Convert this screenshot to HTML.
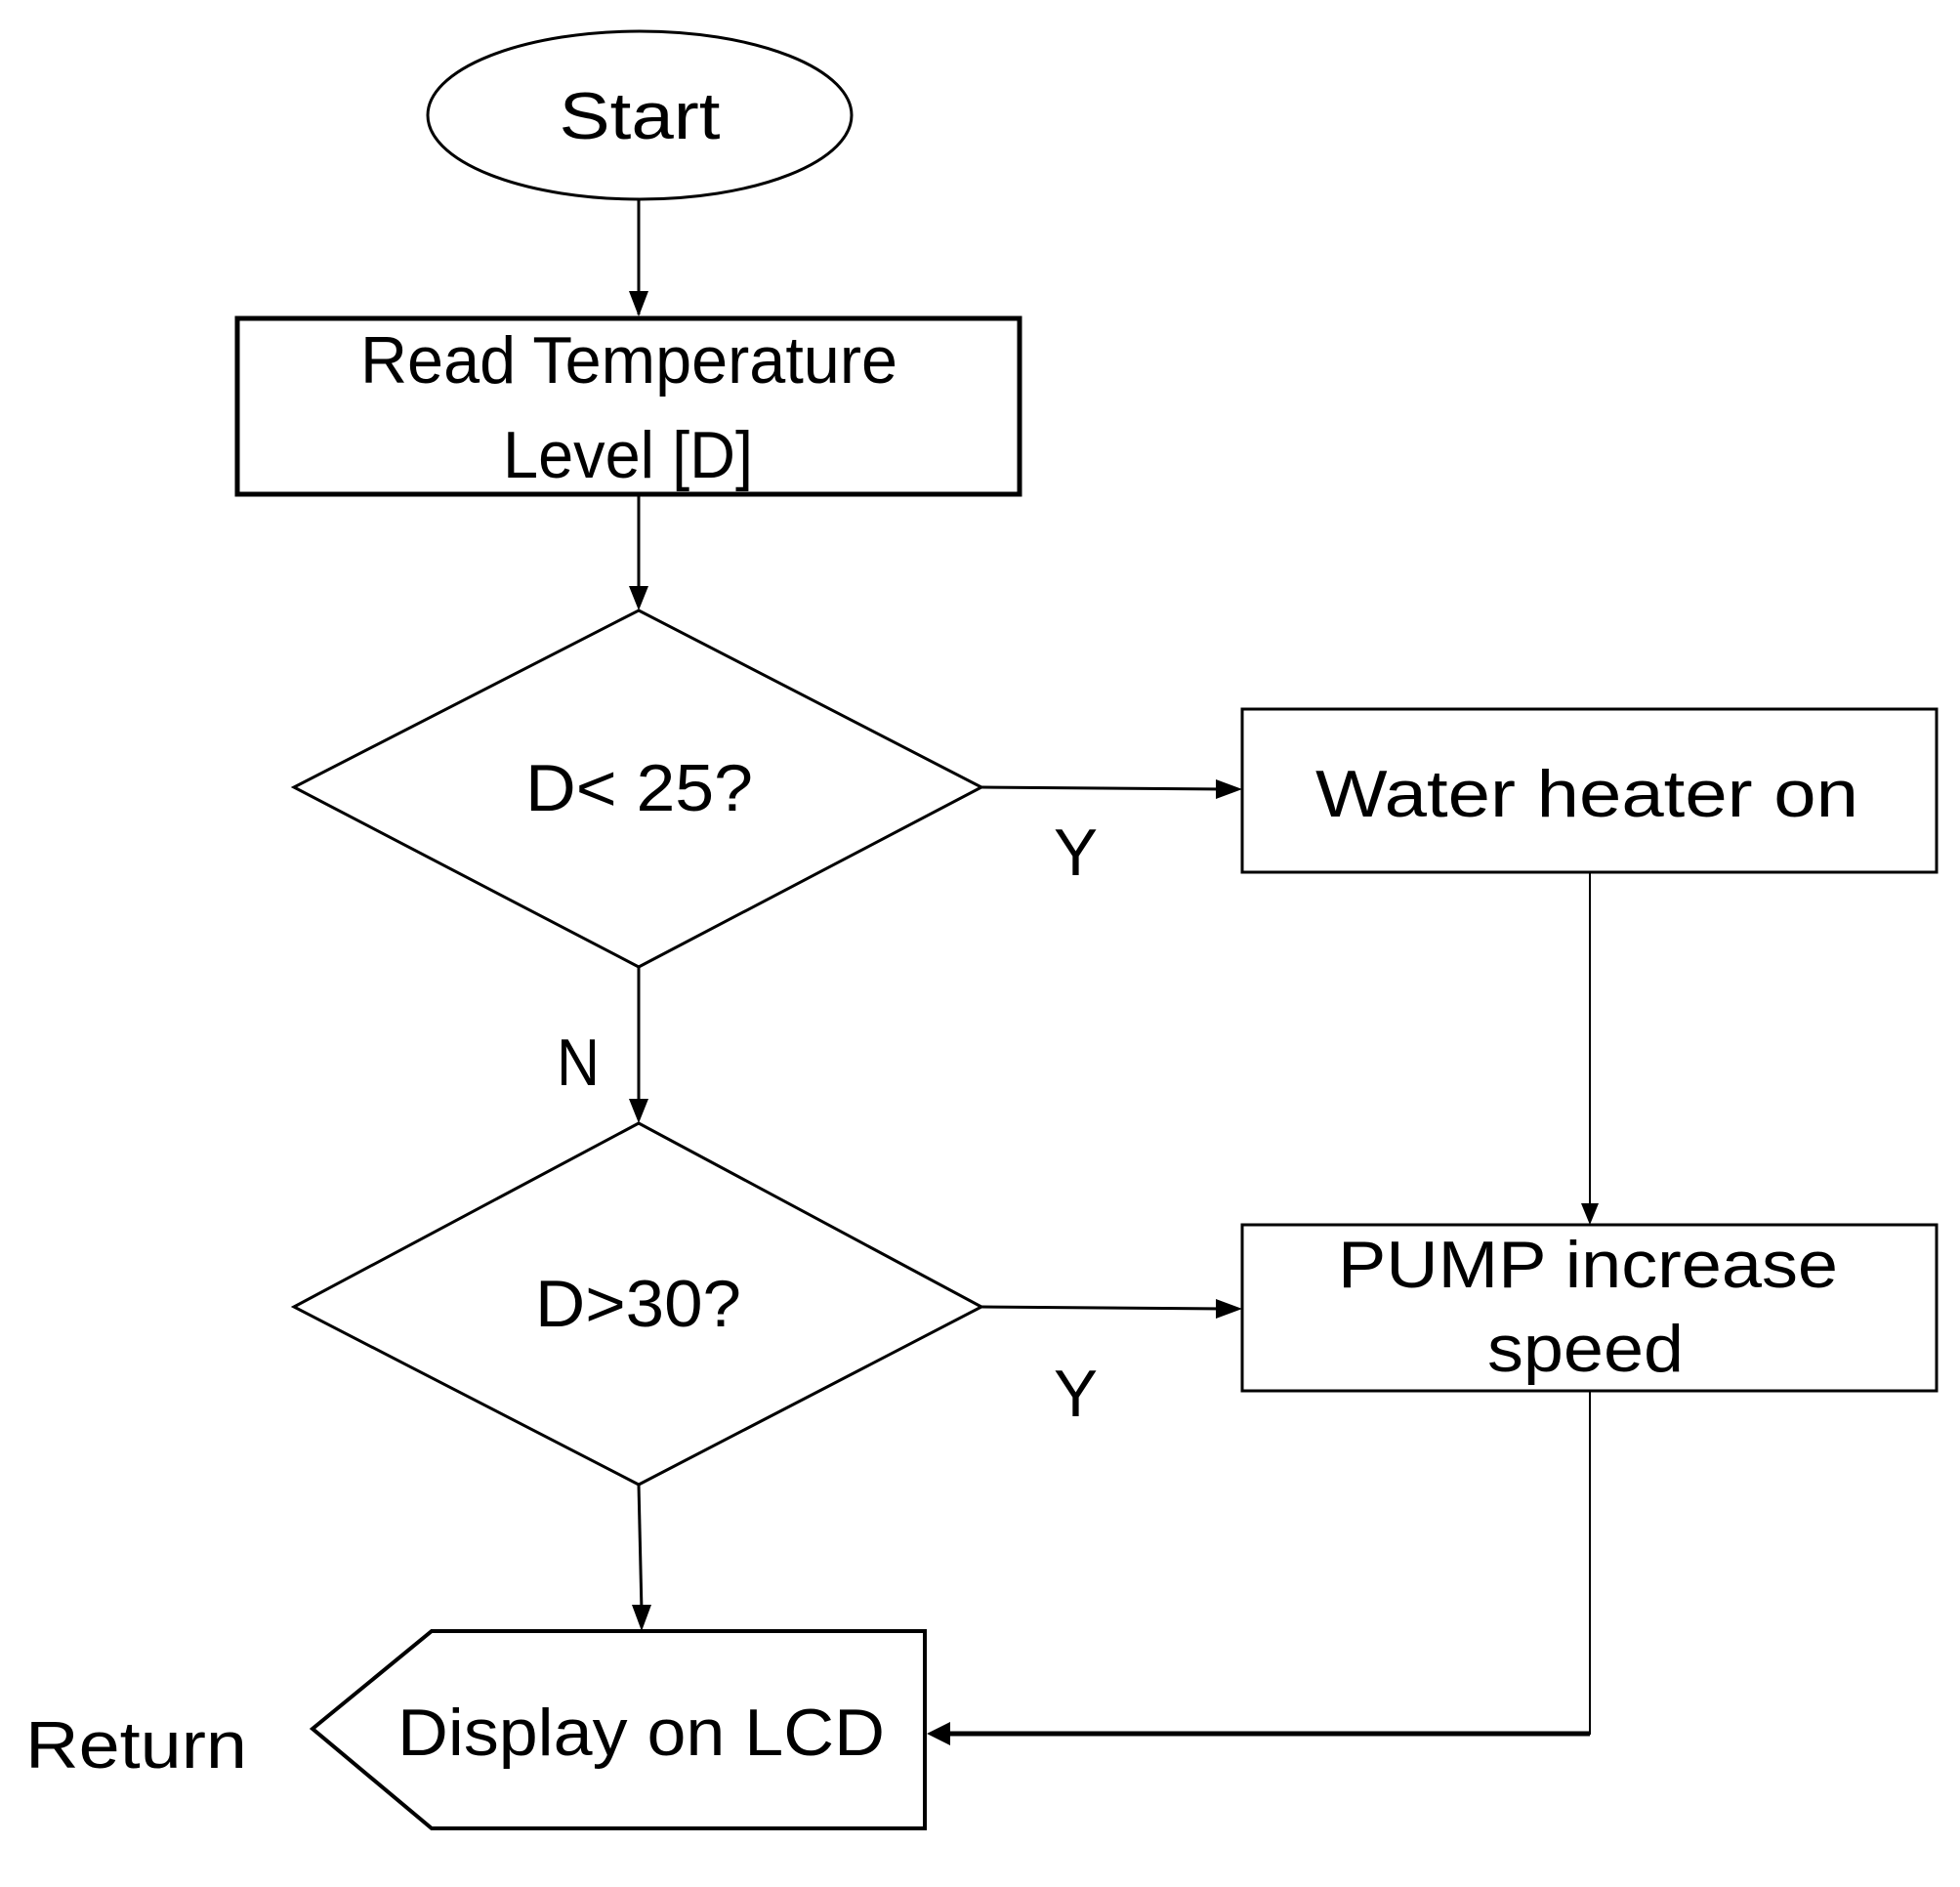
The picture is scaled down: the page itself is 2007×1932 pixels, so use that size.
<!DOCTYPE html>
<html><head><style>html,body{margin:0;padding:0;background:#fff}svg{display:block}</style></head>
<body>
<svg width="2007" height="1932" viewBox="0 0 2007 1932" xmlns="http://www.w3.org/2000/svg" font-family="'Liberation Sans', sans-serif" fill="#000">
<defs>
<marker id="a" markerWidth="10" markerHeight="10" refX="9" refY="5" orient="auto" markerUnits="userSpaceOnUse" viewBox="0 0 10 10">
<path d="M0,0 L10,5 L0,10 z"/>
</marker>
</defs>
<g fill="none" stroke="#000">
<ellipse cx="655" cy="118" rx="217" ry="86" stroke-width="3"/>
<rect x="243" y="326" width="801" height="180" stroke-width="5"/>
<polygon points="654,625 1005,806 654,990 301,806" stroke-width="3"/>
<rect x="1272" y="726" width="711" height="167" stroke-width="3"/>
<polygon points="654,1150 1005,1338 654,1520 301,1338" stroke-width="3"/>
<rect x="1272" y="1254" width="711" height="170" stroke-width="3"/>
<polygon points="442,1670 947,1670 947,1872 442,1872 320,1770" stroke-width="4"/>

<g stroke-width="3">
<line x1="654" y1="205" x2="654" y2="322"/>
<path d="M654,206 V300" />
<line x1="654" y1="508" x2="654" y2="610"/>
<line x1="654" y1="990" x2="654" y2="1135"/>
<line x1="1005" y1="806" x2="1255" y2="808"/>
<line x1="1005" y1="1338" x2="1255" y2="1340"/>
<line x1="654" y1="1520" x2="657" y2="1650"/>
<line x1="960" y1="1775" x2="1628" y2="1775" stroke-width="5"/>
</g>
<g stroke-width="2">
<line x1="1628" y1="893" x2="1628" y2="1236"/>
<line x1="1628" y1="1424" x2="1628" y2="1776"/>
</g>
</g>
<!-- arrowheads -->
<path d="M644,298 L664,298 L654,324 z"/>
<path d="M644,600 L664,600 L654,625 z"/>
<path d="M644,1125 L664,1125 L654,1150 z"/>
<path d="M1245,798 L1272,808 L1245,818 z"/>
<path d="M1245,1330 L1272,1340 L1245,1350 z"/>
<path d="M1619,1232 L1637,1232 L1628,1254 z"/>
<path d="M647,1643 L667,1643 L657,1670 z"/>
<path d="M949,1775 L973,1763 L973,1787 z"/>

<g font-size="68">
<text x="655" y="142" text-anchor="middle" textLength="165" lengthAdjust="spacingAndGlyphs">Start</text>
<text x="369" y="392" textLength="550" lengthAdjust="spacingAndGlyphs">Read Temperature</text>
<text x="515" y="489" textLength="256" lengthAdjust="spacingAndGlyphs">Level [D]</text>
<text x="538" y="830" textLength="233" lengthAdjust="spacingAndGlyphs">D&lt; 25?</text>
<text x="1347" y="836" textLength="556" lengthAdjust="spacingAndGlyphs">Water heater on</text>
<text x="548" y="1358" textLength="211" lengthAdjust="spacingAndGlyphs">D&gt;30?</text>
<text x="1370" y="1318" textLength="512" lengthAdjust="spacingAndGlyphs">PUMP increase</text>
<text x="1523" y="1404" textLength="201" lengthAdjust="spacingAndGlyphs">speed</text>
<text x="407" y="1797" textLength="499" lengthAdjust="spacingAndGlyphs">Display on LCD</text>
<text x="26" y="1810" textLength="227" lengthAdjust="spacingAndGlyphs">Return</text>
<text x="570" y="1111" textLength="44" lengthAdjust="spacingAndGlyphs">N</text>
<text x="1079" y="896" textLength="45" lengthAdjust="spacingAndGlyphs">Y</text>
<text x="1079" y="1450" textLength="45" lengthAdjust="spacingAndGlyphs">Y</text>
</g>
</svg>
</body></html>
